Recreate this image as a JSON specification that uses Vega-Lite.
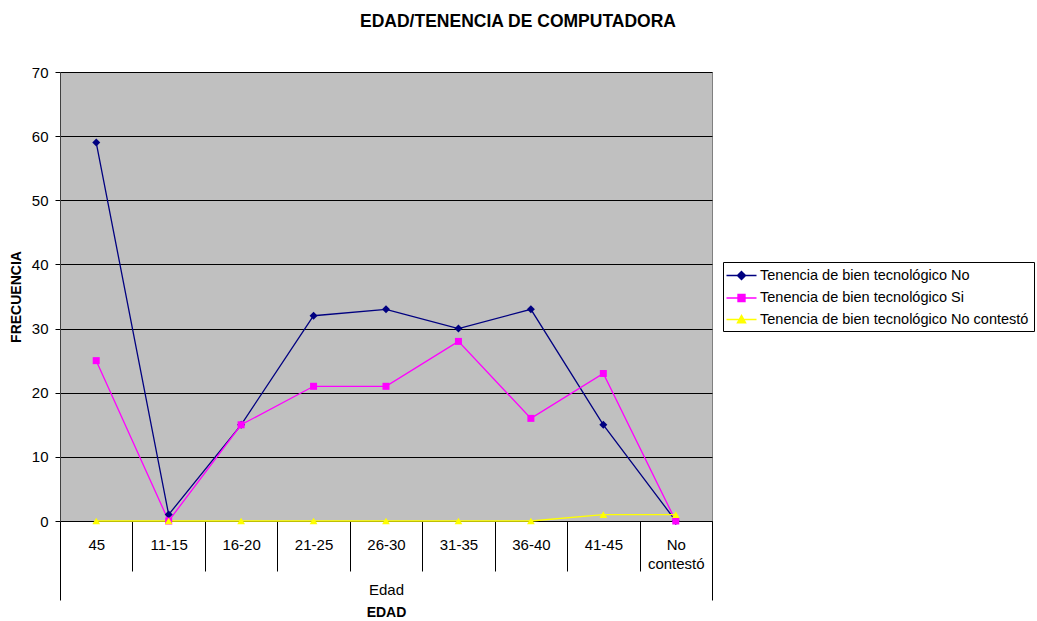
{
  "$schema": "https://vega.github.io/schema/vega-lite/v6.json",
  "width": 652,
  "height": 449,
  "autosize": {"type": "none"},
  "padding": {"left": 60, "top": 72, "right": 325, "bottom": 100},
  "background": "white",
  "title": {
    "text": "EDAD/TENENCIA DE COMPUTADORA",
    "font": "Liberation Sans",
    "fontSize": 17.5,
    "fontWeight": "bold",
    "color": "black",
    "anchor": "middle",
    "frame": "group",
    "dx": 132,
    "offset": 35
  },
  "config": {
    "font": "Liberation Sans",
    "view": {"fill": "#C0C0C0", "stroke": "#808080", "strokeWidth": 1},
    "legend": {
      "orient": "none",
      "legendX": 663,
      "legendY": 190,
      "strokeColor": "black",
      "fillColor": "white",
      "padding": 5,
      "labelFont": "Liberation Sans",
      "labelFontSize": 14.5,
      "labelColor": "black",
      "labelLimit": 400,
      "symbolSize": 225,
      "symbolStrokeWidth": 1.3,
      "symbolOpacity": 1,
      "symbolOffset": 5,
      "labelOffset": 10,
      "rowPadding": 6.5,
      "title": null
    }
  },
  "data": {
    "values": [
      {"edad": "45", "serie": "Tenencia de bien tecnológico No", "frecuencia": 59},
      {"edad": "11-15", "serie": "Tenencia de bien tecnológico No", "frecuencia": 1},
      {"edad": "16-20", "serie": "Tenencia de bien tecnológico No", "frecuencia": 15},
      {"edad": "21-25", "serie": "Tenencia de bien tecnológico No", "frecuencia": 32},
      {"edad": "26-30", "serie": "Tenencia de bien tecnológico No", "frecuencia": 33},
      {"edad": "31-35", "serie": "Tenencia de bien tecnológico No", "frecuencia": 30},
      {"edad": "36-40", "serie": "Tenencia de bien tecnológico No", "frecuencia": 33},
      {"edad": "41-45", "serie": "Tenencia de bien tecnológico No", "frecuencia": 15},
      {"edad": "No contestó", "serie": "Tenencia de bien tecnológico No", "frecuencia": 0},
      {"edad": "45", "serie": "Tenencia de bien tecnológico Si", "frecuencia": 25},
      {"edad": "11-15", "serie": "Tenencia de bien tecnológico Si", "frecuencia": 0},
      {"edad": "16-20", "serie": "Tenencia de bien tecnológico Si", "frecuencia": 15},
      {"edad": "21-25", "serie": "Tenencia de bien tecnológico Si", "frecuencia": 21},
      {"edad": "26-30", "serie": "Tenencia de bien tecnológico Si", "frecuencia": 21},
      {"edad": "31-35", "serie": "Tenencia de bien tecnológico Si", "frecuencia": 28},
      {"edad": "36-40", "serie": "Tenencia de bien tecnológico Si", "frecuencia": 16},
      {"edad": "41-45", "serie": "Tenencia de bien tecnológico Si", "frecuencia": 23},
      {"edad": "No contestó", "serie": "Tenencia de bien tecnológico Si", "frecuencia": 0},
      {"edad": "45", "serie": "Tenencia de bien tecnológico No contestó", "frecuencia": 0},
      {"edad": "11-15", "serie": "Tenencia de bien tecnológico No contestó", "frecuencia": 0},
      {"edad": "16-20", "serie": "Tenencia de bien tecnológico No contestó", "frecuencia": 0},
      {"edad": "21-25", "serie": "Tenencia de bien tecnológico No contestó", "frecuencia": 0},
      {"edad": "26-30", "serie": "Tenencia de bien tecnológico No contestó", "frecuencia": 0},
      {"edad": "31-35", "serie": "Tenencia de bien tecnológico No contestó", "frecuencia": 0},
      {"edad": "36-40", "serie": "Tenencia de bien tecnológico No contestó", "frecuencia": 0},
      {"edad": "41-45", "serie": "Tenencia de bien tecnológico No contestó", "frecuencia": 1},
      {"edad": "No contestó", "serie": "Tenencia de bien tecnológico No contestó", "frecuencia": 1}
    ]
  },
  "layer": [
    {
      "encoding": {
        "x": {
          "field": "edad",
          "type": "nominal",
          "sort": null,
          "scale": {
            "type": "band",
            "domain": ["45", "11-15", "16-20", "21-25", "26-30", "31-35", "36-40", "41-45", "No contestó"],
            "paddingInner": 0,
            "paddingOuter": 0
          },
          "axis": {
            "orient": "bottom",
            "title": null,
            "domain": false,
            "grid": false,
            "tickBand": "extent",
            "tickSize": 50,
            "tickColor": "black",
            "labelAngle": 0,
            "labelFont": "Liberation Sans",
            "labelFontSize": 15,
            "labelColor": "black",
            "labelPadding": -34,
            "labelLineHeight": 19,
            "labelExpr": "datum.value == 'No contestó' ? ['No', 'contestó'] : datum.value"
          }
        },
        "y": {
          "field": "frecuencia",
          "type": "quantitative",
          "scale": {"domain": [0, 70], "nice": false},
          "axis": {
            "values": [0, 10, 20, 30, 40, 50, 60, 70],
            "title": "FRECUENCIA",
            "titleFont": "Liberation Sans",
            "titleFontSize": 14,
            "titleFontWeight": "bold",
            "titleColor": "black",
            "titlePadding": 8,
            "grid": true,
            "gridColor": "black",
            "gridOpacity": 1,
            "gridWidth": 1,
            "domainColor": "#404040",
            "tickColor": "black",
            "tickSize": 5,
            "labelPadding": 7,
            "labelFont": "Liberation Sans",
            "labelFontSize": 15,
            "labelColor": "black"
          }
        }
      },
      "layer": [
        {
          "mark": {"type": "line", "strokeWidth": 1.3},
          "encoding": {
            "color": {
              "field": "serie",
              "type": "nominal",
              "scale": {
                "domain": ["Tenencia de bien tecnológico No", "Tenencia de bien tecnológico Si", "Tenencia de bien tecnológico No contestó"],
                "range": ["#000080", "#FF00FF", "#FFFF00"]
              }
            }
          }
        },
        {
          "mark": {"type": "point", "filled": true, "clip": true, "strokeWidth": 1.3},
          "encoding": {
            "y": {"datum": -30},
            "color": {
              "field": "serie",
              "type": "nominal",
              "scale": {
                "domain": ["Tenencia de bien tecnológico No", "Tenencia de bien tecnológico Si", "Tenencia de bien tecnológico No contestó"],
                "range": ["#000080", "#FF00FF", "#FFFF00"]
              }
            },
            "stroke": {
              "field": "serie",
              "type": "nominal",
              "scale": {
                "domain": ["Tenencia de bien tecnológico No", "Tenencia de bien tecnológico Si", "Tenencia de bien tecnológico No contestó"],
                "range": ["#000080", "#FF00FF", "#FFFF00"]
              }
            },
            "shape": {
              "field": "serie",
              "type": "nominal",
              "scale": {
                "domain": ["Tenencia de bien tecnológico No", "Tenencia de bien tecnológico Si", "Tenencia de bien tecnológico No contestó"],
                "range": [
                  "M-2,0H2M0,-0.55L0.55,0L0,0.55L-0.55,0Z",
                  "M-2,0H2M-0.47,-0.47H0.47V0.47H-0.47Z",
                  "M-2,0H2M0,-0.55L0.55,0.45L-0.55,0.45Z"
                ]
              }
            }
          }
        },
        {
          "transform": [{"filter": "datum.serie == 'Tenencia de bien tecnológico No'"}],
          "mark": {"type": "point", "shape": "diamond", "filled": true, "opacity": 1, "size": 64, "color": "#000080"}
        },
        {
          "transform": [{"filter": "datum.serie == 'Tenencia de bien tecnológico Si'"}],
          "mark": {"type": "point", "shape": "square", "filled": true, "opacity": 1, "size": 49, "color": "#FF00FF"}
        },
        {
          "transform": [{"filter": "datum.serie == 'Tenencia de bien tecnológico No contestó'"}],
          "mark": {"type": "point", "shape": "triangle-up", "filled": true, "opacity": 1, "size": 60, "color": "#FFFF00"}
        }
      ]
    },
    {
      "mark": {"type": "point", "opacity": 0},
      "encoding": {
        "x": {
          "datum": "Edad",
          "type": "nominal",
          "scale": {"type": "band", "domain": ["Edad"], "paddingInner": 0, "paddingOuter": 0},
          "axis": {
            "orient": "bottom",
            "domain": false,
            "grid": false,
            "tickBand": "extent",
            "tickSize": 79,
            "tickColor": "black",
            "labelAngle": 0,
            "labelFont": "Liberation Sans",
            "labelFontSize": 15,
            "labelColor": "black",
            "labelPadding": -18,
            "title": "EDAD",
            "titleFont": "Liberation Sans",
            "titleFontSize": 14,
            "titleFontWeight": "bold",
            "titleColor": "black",
            "titlePadding": 5
          }
        },
        "y": {"datum": 0}
      }
    }
  ],
  "resolve": {"scale": {"x": "independent"}, "axis": {"x": "independent"}}
}
